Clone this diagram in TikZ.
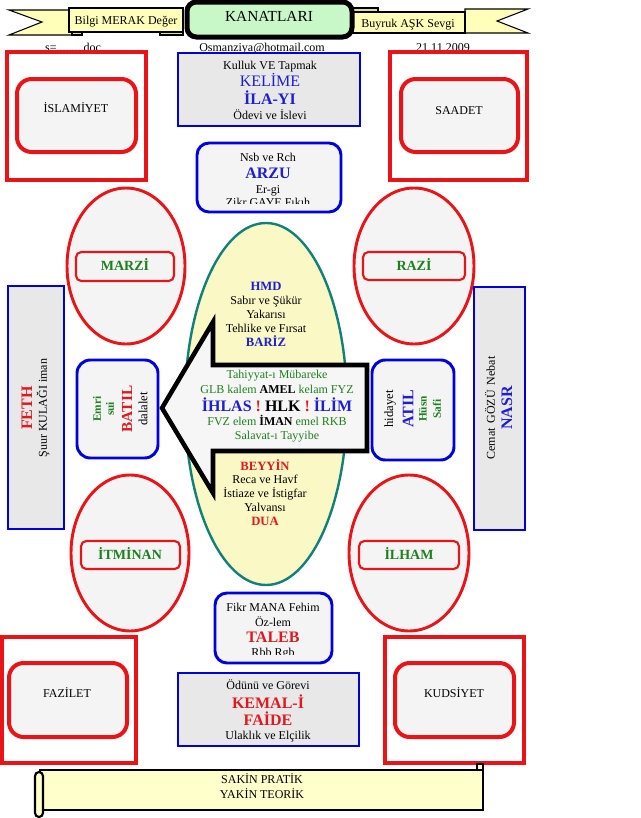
\documentclass[tikz,border=0pt]{standalone}
\usepackage{fontspec}
\setmainfont{Liberation Serif}
\definecolor{rd}{RGB}{232,20,24}
\definecolor{bl}{RGB}{0,0,220}
\definecolor{tbl}{RGB}{30,30,210}
\definecolor{tred}{RGB}{225,25,30}
\definecolor{tgr}{RGB}{30,128,30}
\definecolor{gfill}{RGB}{232,232,232}
\definecolor{lfill}{RGB}{244,244,244}
\definecolor{ribbonc}{RGB}{255,255,185}
\definecolor{foldc}{RGB}{225,225,150}
\definecolor{kgreen}{RGB}{200,248,200}
\definecolor{eyel}{RGB}{250,248,196}
\definecolor{scrollc}{RGB}{255,255,204}
\definecolor{tealc}{RGB}{16,128,120}
\definecolor{arrowc}{RGB}{246,246,246}
\newcommand{\fs}[1]{\fontsize{#1}{#1}\selectfont}
\tikzset{
  txt/.style={inner sep=0pt, anchor=base, font=\fs{9}},
  big/.style={inner sep=0pt, anchor=base, font=\fs{12}\bfseries},
  mid/.style={inner sep=0pt, anchor=base, font=\fs{9.5}\bfseries},
  lab/.style={inner sep=0pt, anchor=base, font=\fs{10.5}\bfseries, text=tgr},
  rot/.style={inner sep=0pt, anchor=center, rotate=90},
  sml/.style={rot, font=\fs{8.5}\bfseries, text=tgr},
  redbox/.style={draw=rd, line width=3pt},
  redround/.style={draw=rd, line width=3pt, fill=lfill, rounded corners=11pt},
  redell/.style={draw=rd, line width=2.2pt, fill=lfill},
  redthin/.style={draw=rd, line width=1.6pt, fill=lfill, rounded corners=4pt},
  bluebox/.style={draw=bl, line width=2.2pt},
  ribbonbox/.style={draw=black, line width=0.8pt, fill=ribbonc},
  foldbox/.style={draw=black, line width=0.8pt, fill=foldc},
  scrollbox/.style={draw=black, line width=1.6pt, fill=scrollc}
}
\begin{document}
\begin{tikzpicture}[x=0.75pt,y=-0.75pt]
\useasboundingbox (0,0) rectangle (640,818);

% ---------- top ribbon ----------
\draw[ribbonbox] (9,10) -- (72,10) -- (72,35) -- (9,35) -- (42,22) -- cycle;
\draw[ribbonbox] (465,9) -- (528,9) -- (497,21) -- (528,33) -- (465,33) -- cycle;
\draw[foldbox] (72,29) rectangle (82,35);
\draw[foldbox] (160,29) rectangle (183,35);
\draw[foldbox] (353,8) rectangle (378,14);
\draw[ribbonbox] (69,8) rectangle (183,32);
\draw[ribbonbox] (352,12) rectangle (465,33);
\draw[line width=3.75pt, rounded corners=7pt, fill=kgreen] (187,2) rectangle (352,37);
\node[txt] (bilgi) at (126,24) {Bilgi MERAK Değer};
\node[inner sep=0pt, anchor=base, font=\fs{11.5}] (kanat) at (269,21) {KANATLARI};
\node[txt] (buyruk) at (408,27) {Buyruk AŞK Sevgi};
\node[txt] (sdoc) at (73,51) {s=.........doc};
\node[txt] (mail) at (262,51) {Osmanziya@hotmail.com};
\node[txt] (date) at (443,51) {21.11.2009};

% ---------- corner boxes ----------
\draw[redbox] (7,52) rectangle (146,180);
\draw[redround] (17,79) rectangle (136,152);
\node[txt] (islam) at (76,112) {İSLAMİYET};
\draw[redbox] (390,52) rectangle (527,180);
\draw[redround] (401,79) rectangle (518,152);
\node[txt] (saadet) at (459,114) {SAADET};
\draw[redbox] (2,637) rectangle (136,763);
\draw[redround] (9,663) rectangle (127,737);
\node[txt] (fazilet) at (67,697) {FAZİLET};
\draw[redbox] (385,637) rectangle (524,763);
\draw[redround] (395,663) rectangle (514,737);
\node[txt] (kudsiyet) at (454,697) {KUDSİYET};

% ---------- KELIME box ----------
\draw[bluebox, fill=gfill] (178,53) rectangle (360,126);
\node[txt] (k1) at (270,69) {Kulluk VE Tapmak};
\node[inner sep=0pt, anchor=base, font=\fs{12}, text=tbl] (k2) at (270,86) {KELİME};
\node[big, text=tbl] (k3) at (270,104) {İLA-YI};
\node[txt] (k4) at (270,119) {Ödevi ve İslevi};

% ---------- ARZU box ----------
\draw[bluebox, fill=lfill, rounded corners=9pt] (197,143) rectangle (341,212);
\begin{scope}
\clip (197,143) rectangle (341,203.5);
\node[txt] (a1) at (268,161) {Nsb ve Rch};
\node[big, text=tbl] (a2) at (268,178) {ARZU};
\node[txt] (a3) at (268,193) {Er-gi};
\node[txt] (a4) at (268,206) {Zikr GAYE Fıkıh};
\end{scope}

% ---------- four ellipses ----------
\draw[redell] (126,266) ellipse [x radius=59, y radius=78];
\draw[redthin] (76,252) rectangle (174,281);
\node[lab] (marzi) at (125,270.5) {MARZİ};
\draw[redell] (414,266) ellipse [x radius=60, y radius=78];
\draw[redthin] (363,252) rectangle (465,280);
\node[lab] (razi) at (414,270.5) {RAZİ};
\draw[redell] (130,553) ellipse [x radius=59, y radius=78];
\draw[redthin] (81,541) rectangle (180,569);
\node[lab] (itminan) at (130,559.5) {İTMİNAN};
\draw[redell] (409,553) ellipse [x radius=60, y radius=78];
\draw[redthin] (359,541) rectangle (459,569);
\node[lab] (ilham) at (409,559.5) {İLHAM};

% ---------- side panels ----------
\draw[bluebox, fill=gfill] (8,286) rectangle (64,529);
\node[rot, font=\fs{12}\bfseries, text=tred] (feth) at (27,408) {FETH};
\node[rot, font=\fs{9}] (suur) at (43,408) {Şuur KULAĞI iman};
\draw[bluebox, fill=gfill] (474,287) rectangle (525,530);
\node[rot, font=\fs{9}] (cemat) at (490,408) {Cemat\, GÖZÜ\, Nebat};
\node[rot, font=\fs{12}\bfseries, text=tbl] (nasr) at (507,408) {NASR};

\draw[bluebox, fill=lfill, rounded corners=10pt] (77,360) rectangle (158,458);
\node[sml] (emri) at (97,409) {Emri};
\node[sml] (sui) at (110,409) {sui};
\node[rot, font=\fs{11.5}\bfseries, text=tred] (batil) at (127,409) {BATIL};
\node[rot, font=\fs{9.5}] (dalalet) at (143,409) {dalalet};
\draw[bluebox, fill=lfill, rounded corners=10pt] (372,360) rectangle (454,460);
\node[rot, font=\fs{9.5}] (hidayet) at (390,409) {hidayet};
\node[rot, font=\fs{12}\bfseries, text=tbl] (atil) at (408,409) {ATIL};
\node[sml] (husn) at (423,409) {Hüsn};
\node[sml] (safi) at (437,409) {Safi};

% ---------- central ellipse ----------
\draw[draw=tealc, line width=1.8pt, fill=eyel] (266,404) ellipse [x radius=81, y radius=181];
\node[mid, text=tbl] (hmd) at (266,290) {HMD};
\node[txt] (e1) at (266,304) {Sabır ve Şükür};
\node[txt] (e2) at (266,318) {Yakarısı};
\node[txt] (e3) at (266,332) {Tehlike ve Fırsat};
\node[mid, text=tbl] (bariz) at (266,346) {BARİZ};
\node[mid, text=tred] (beyyin) at (265,470) {BEYYİN};
\node[txt] (e4) at (265,483) {Reca ve Havf};
\node[txt] (e5) at (265,497) {İstiaze ve İstigfar};
\node[txt] (e6) at (265,511) {Yalvansı};
\node[mid, text=tred] (dua) at (265,525) {DUA};

% ---------- big arrow ----------
\draw[line width=3.4pt, fill=arrowc, line join=miter]
  (162,408) -- (213,322) -- (213,365) -- (367,365) -- (367,451) -- (213,451) -- (213,493) -- cycle;
\node[txt, text=tgr] (r1) at (277,378) {Tahiyyat-ı Mübareke};
\node[txt, text=tgr] (r2) at (277,393) {GLB kalem \textcolor{black}{\bfseries AMEL} kelam FYZ};
\node[big] (r3) at (277,411) {\textcolor{tbl}{İHLAS} \textcolor{tred}{!} HLK \textcolor{tred}{!} \textcolor{tbl}{İLİM}};
\node[txt, text=tgr] (r4) at (277,425) {FVZ elem \textcolor{black}{\bfseries İMAN} emel RKB};
\node[txt, text=tgr] (r5) at (277,439) {Salavat-ı Tayyibe};

% ---------- TALEB box ----------
\draw[bluebox, fill=lfill, rounded corners=9pt] (215,593) rectangle (332,663);
\begin{scope}
\clip (215,593) rectangle (332,654);
\node[txt] (t1) at (273,611) {Fikr MANA Fehim};
\node[txt] (t2) at (273,626) {Öz-lem};
\node[big, text=tred] (t3) at (273,642) {TALEB};
\node[txt] (t4) at (273,656) {Rbb Rgb};
\end{scope}

% ---------- KEMAL box ----------
\draw[bluebox, fill=gfill] (178,673) rectangle (359,746);
\node[txt] (m1) at (268,689) {Ödünü ve Görevi};
\node[big, text=tred] (m2) at (268,708) {KEMAL-İ};
\node[big, text=tred] (m3) at (268,725) {FAİDE};
\node[txt] (m4) at (268,739) {Ulaklık ve Elçilik};

% ---------- bottom scroll ----------
\draw[scrollbox] (40,770) rectangle (483,810);
\draw[scrollbox, rounded corners=3pt] (35,772) rectangle (43,817);
\draw[draw=black, line width=1pt, fill=scrollc] (477,764) rectangle (483,770);
\node[txt] (s1) at (262,783) {SAKİN PRATİK};
\node[txt] (s2) at (262,798) {YAKİN TEORİK};
\end{tikzpicture}
\end{document}
